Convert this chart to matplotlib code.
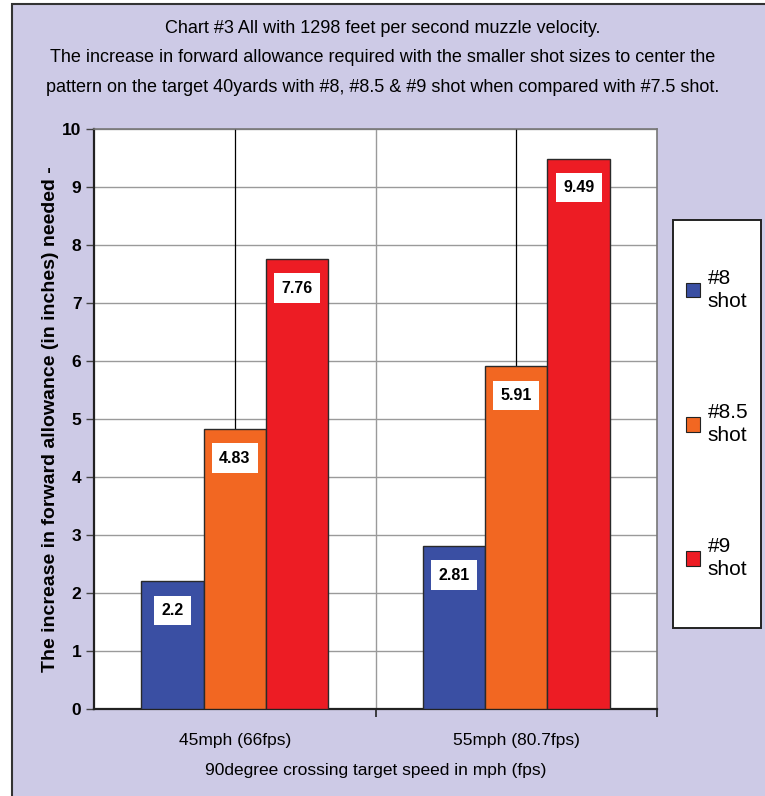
import matplotlib
matplotlib.use("Agg")
import matplotlib.pyplot as plt
from matplotlib.patches import Rectangle, Patch
import numpy as np

categories = ["45mph (66fps)", "55mph (80.7fps)"]
series_names = ["#8\nshot", "#8.5\nshot", "#9\nshot"]
values_8 = [2.2, 2.81]
values_85 = [4.83, 5.91]
values_9 = [7.76, 9.49]
value_labels_8 = ["2.2", "2.81"]
value_labels_85 = ["4.83", "5.91"]
value_labels_9 = ["7.76", "9.49"]
colors = ["#3a4fa3", "#f26722", "#ed1c24"]
title = ("Chart #3 All with 1298 feet per second muzzle velocity.\n"
         "The increase in forward allowance required with the smaller shot sizes to center the\n"
         "pattern on the target 40yards with #8, #8.5 & #9 shot when compared with #7.5 shot.")
ylabel = "The increase in forward allowance (in inches) needed -"
xlabel = "90degree crossing target speed in mph (fps)"

plt.rcParams['font.family'] = ['Liberation Sans', 'DejaVu Sans']

W, H = 765, 796
fig = plt.figure(figsize=(W / 100, H / 100), dpi=100)
fig.patch.set_facecolor("white")
bg = "#cdcae6"
fig.patches.append(Rectangle((12 / W, -0.1), 1.2, 1 - 4 / H + 0.1, transform=fig.transFigure,
                             facecolor=bg, edgecolor="#333333", linewidth=1.5, zorder=-5))

ax = fig.add_axes([94 / W, 1 - 709 / H, (657 - 94) / W, (709 - 129) / H])
ax.set_zorder(2)
ax.set_facecolor("white")

x = np.arange(len(categories))
bw = 0.222
all_vals = [values_8, values_85, values_9]
all_labels = [value_labels_8, value_labels_85, value_labels_9]
for i, (vals, labs) in enumerate(zip(all_vals, all_labels)):
    xs = x + (i - 1) * bw
    ax.bar(xs, vals, width=bw, color=colors[i], edgecolor="#2a2a2a", linewidth=1.0, zorder=3)
    for xx, v, lab in zip(xs, vals, labs):
        ax.annotate(lab, (xx, v), xytext=(0, -21), textcoords="offset points",
                    ha="center", va="center", fontsize=11.5, fontweight="bold", zorder=5,
                    bbox=dict(boxstyle="square,pad=0.45", facecolor="white", edgecolor="none"))

ax.set_ylim(0, 10)
ax.set_xlim(-0.5, len(categories) - 0.5)
ax.set_yticks(np.arange(0, 11, 1))
ax.yaxis.grid(True, color="#9a9a9a", linewidth=1.0, zorder=0)
ax.set_axisbelow(True)
for xc in x:
    ax.axvline(xc, color="black", linewidth=0.9, zorder=1)
ax.axvline(0.5, color="#9a9a9a", linewidth=1.0, zorder=1)

ax.set_xticks(x + 0.5)
ax.set_xticklabels([])
ax.set_xticks(x, minor=True)
ax.set_xticklabels(categories, minor=True, fontsize=12.5)
ax.tick_params(axis="x", which="minor", length=0, pad=17)
ax.tick_params(axis="x", which="major", length=6, width=1.2, direction="out", color="#222222")
ax.tick_params(axis="y", length=6, width=1.0, direction="out", labelsize=12.5, color="#444444", pad=3)
for t in ax.get_yticklabels():
    t.set_fontweight("bold")

for s in ["left", "bottom"]:
    ax.spines[s].set_color("#222222")
    ax.spines[s].set_linewidth(1.6)
for s in ["top", "right"]:
    ax.spines[s].set_color("#777777")
    ax.spines[s].set_linewidth(1.2)

ax.set_xlabel(xlabel, fontsize=12.5, labelpad=11)
ax.set_ylabel(ylabel, fontsize=14, fontweight="bold", labelpad=2)

fig.text(383 / W, 1 - 58 / H, title, ha="center", va="center", fontsize=13, linespacing=1.97)

# legend frame
lx0, lx1, ly0, ly1 = 673, 761, 220, 628
fig.patches.append(Rectangle((lx0 / W, 1 - ly1 / H), (lx1 - lx0) / W, (ly1 - ly0) / H,
                             transform=fig.transFigure, facecolor="white", edgecolor="#222222",
                             linewidth=1.4, zorder=3))
handles = [Patch(facecolor=c, edgecolor="#222222", linewidth=0.8) for c in colors]
leg = fig.legend(handles, series_names, loc="center",
                 bbox_to_anchor=((lx0 + lx1) / 2 / W, 1 - 424 / H),
                 frameon=False, fontsize=15,
                 handlelength=0.7, handleheight=0.7, handletextpad=0.35, labelspacing=4.4,
                 borderpad=0, borderaxespad=0)
for t in leg.get_texts():
    t.set_linespacing(1.3)
leg.set_zorder(4)

fig.savefig("out.png", dpi=100, facecolor=fig.get_facecolor())
